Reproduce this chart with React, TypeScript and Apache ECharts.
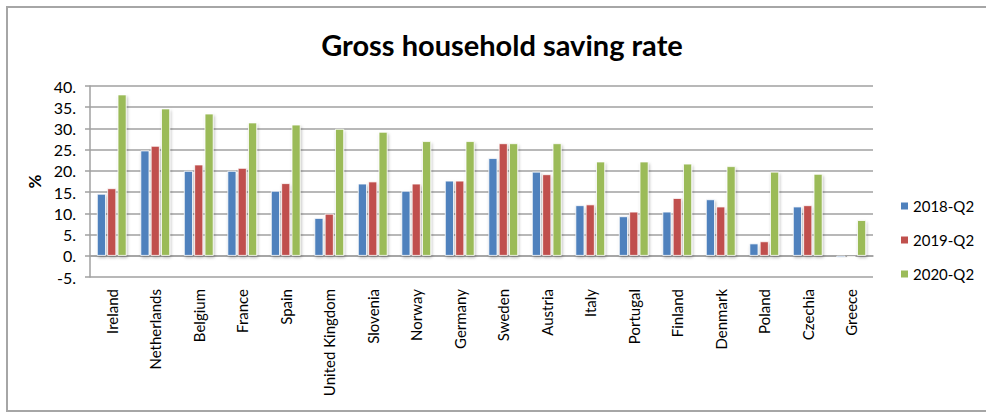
import React, { useEffect, useRef } from "react";
import * as echarts from "echarts";

const categories = [
  "Ireland", "Netherlands", "Belgium", "France", "Spain", "United Kingdom",
  "Slovenia", "Norway", "Germany", "Sweden", "Austria", "Italy", "Portugal",
  "Finland", "Denmark", "Poland", "Czechia", "Greece",
];
const q2018 = [14.6, 24.8, 20.0, 20.0, 15.3, 8.9, 17.0, 15.3, 17.7, 23.0, 19.8, 11.9, 9.3, 10.4, 13.3, 2.9, 11.6, -0.4];
const q2019 = [15.9, 25.9, 21.5, 20.7, 17.1, 9.9, 17.5, 17.0, 17.7, 26.5, 19.2, 12.1, 10.4, 13.6, 11.6, 3.4, 11.9, -0.2];
const q2020 = [38.0, 34.7, 33.5, 31.4, 30.9, 29.9, 29.2, 27.0, 27.0, 26.5, 26.5, 22.2, 22.2, 21.7, 21.1, 19.8, 19.3, 8.4];
const seriesNames = ["2018-Q2", "2019-Q2", "2020-Q2"];
const colors = ["#4F81BD", "#C0504D", "#9BBB59"];

const FONT = "Lato, 'Open Sans', sans-serif";

export default function App() {
  const ref = useRef<HTMLDivElement>(null);
  useEffect(() => {
    if (!ref.current) return;
    const chart = echarts.init(ref.current, null, { renderer: "svg" });
    const data = [q2018, q2019, q2020];
    chart.setOption({
      animation: false,
      backgroundColor: "#ffffff",
      textStyle: { fontFamily: FONT },
      title: {
        text: "Gross household saving rate",
        left: 497,
        top: 25,
        textAlign: "center",
        textStyle: { fontFamily: FONT, fontWeight: "bold", fontSize: 29, color: "#000" },
      },
      graphic: [
        {
          type: "rect",
          shape: { x: 7, y: 7, width: 1000, height: 404 },
          style: { fill: "none", stroke: "#A6A6A6", lineWidth: 2 },
          silent: true,
          z: 100,
        },
      ],
      legend: {
        orient: "vertical",
        left: 894,
        top: 192,
        itemWidth: 9,
        itemHeight: 9,
        itemGap: 16,
        icon: "rect",
        data: seriesNames,
        textStyle: { fontFamily: FONT, fontSize: 15, color: "#000", lineHeight: 18, padding: [0, 0, 0, -1] },
      },
      grid: { left: 90, right: 113, top: 86, bottom: 135, containLabel: false },
      xAxis: {
        type: "category",
        data: categories,
        axisLine: { onZero: true, lineStyle: { color: "#A0A0A0", width: 1.5 } },
        axisTick: { show: false },
        axisLabel: {
          rotate: 90,
          interval: 0,
          margin: 12,
          fontFamily: FONT,
          fontSize: 15,
          color: "#000",
        },
      },
      yAxis: {
        type: "value",
        min: -5,
        max: 40,
        interval: 5,
        name: "%",
        nameLocation: "middle",
        nameGap: 46,
        nameRotate: 90,
        nameTextStyle: { fontFamily: FONT, fontSize: 17, fontWeight: "bold", color: "#000" },
        axisLine: { show: true, lineStyle: { color: "#A0A0A0", width: 1.5 } },
        axisTick: { show: true, length: 5, lineStyle: { color: "#A0A0A0", width: 1.5 } },
        axisLabel: {
          formatter: (v: number) => v + ".",
          fontFamily: FONT,
          fontSize: 16,
          color: "#000",
          margin: 14,
        },
        splitLine: { lineStyle: { color: "#A0A0A0", width: 1.5 } },
      },
      series: seriesNames.map((name, i) => ({
        name,
        type: "bar",
        data: data[i],
        barWidth: 9,
        barGap: "15%",
        itemStyle: {
          color: colors[i],
          borderColor: "#ffffff",
          borderWidth: 0.8,
          shadowColor: "rgba(0,0,0,0.25)",
          shadowBlur: 3,
          shadowOffsetY: 2,
          shadowOffsetX: 1,
        },
      })),
    });
    return () => chart.dispose();
  }, []);
  return <div ref={ref} style={{ width: 986, height: 412, position: "absolute", left: 0, top: 0 }} />;
}
